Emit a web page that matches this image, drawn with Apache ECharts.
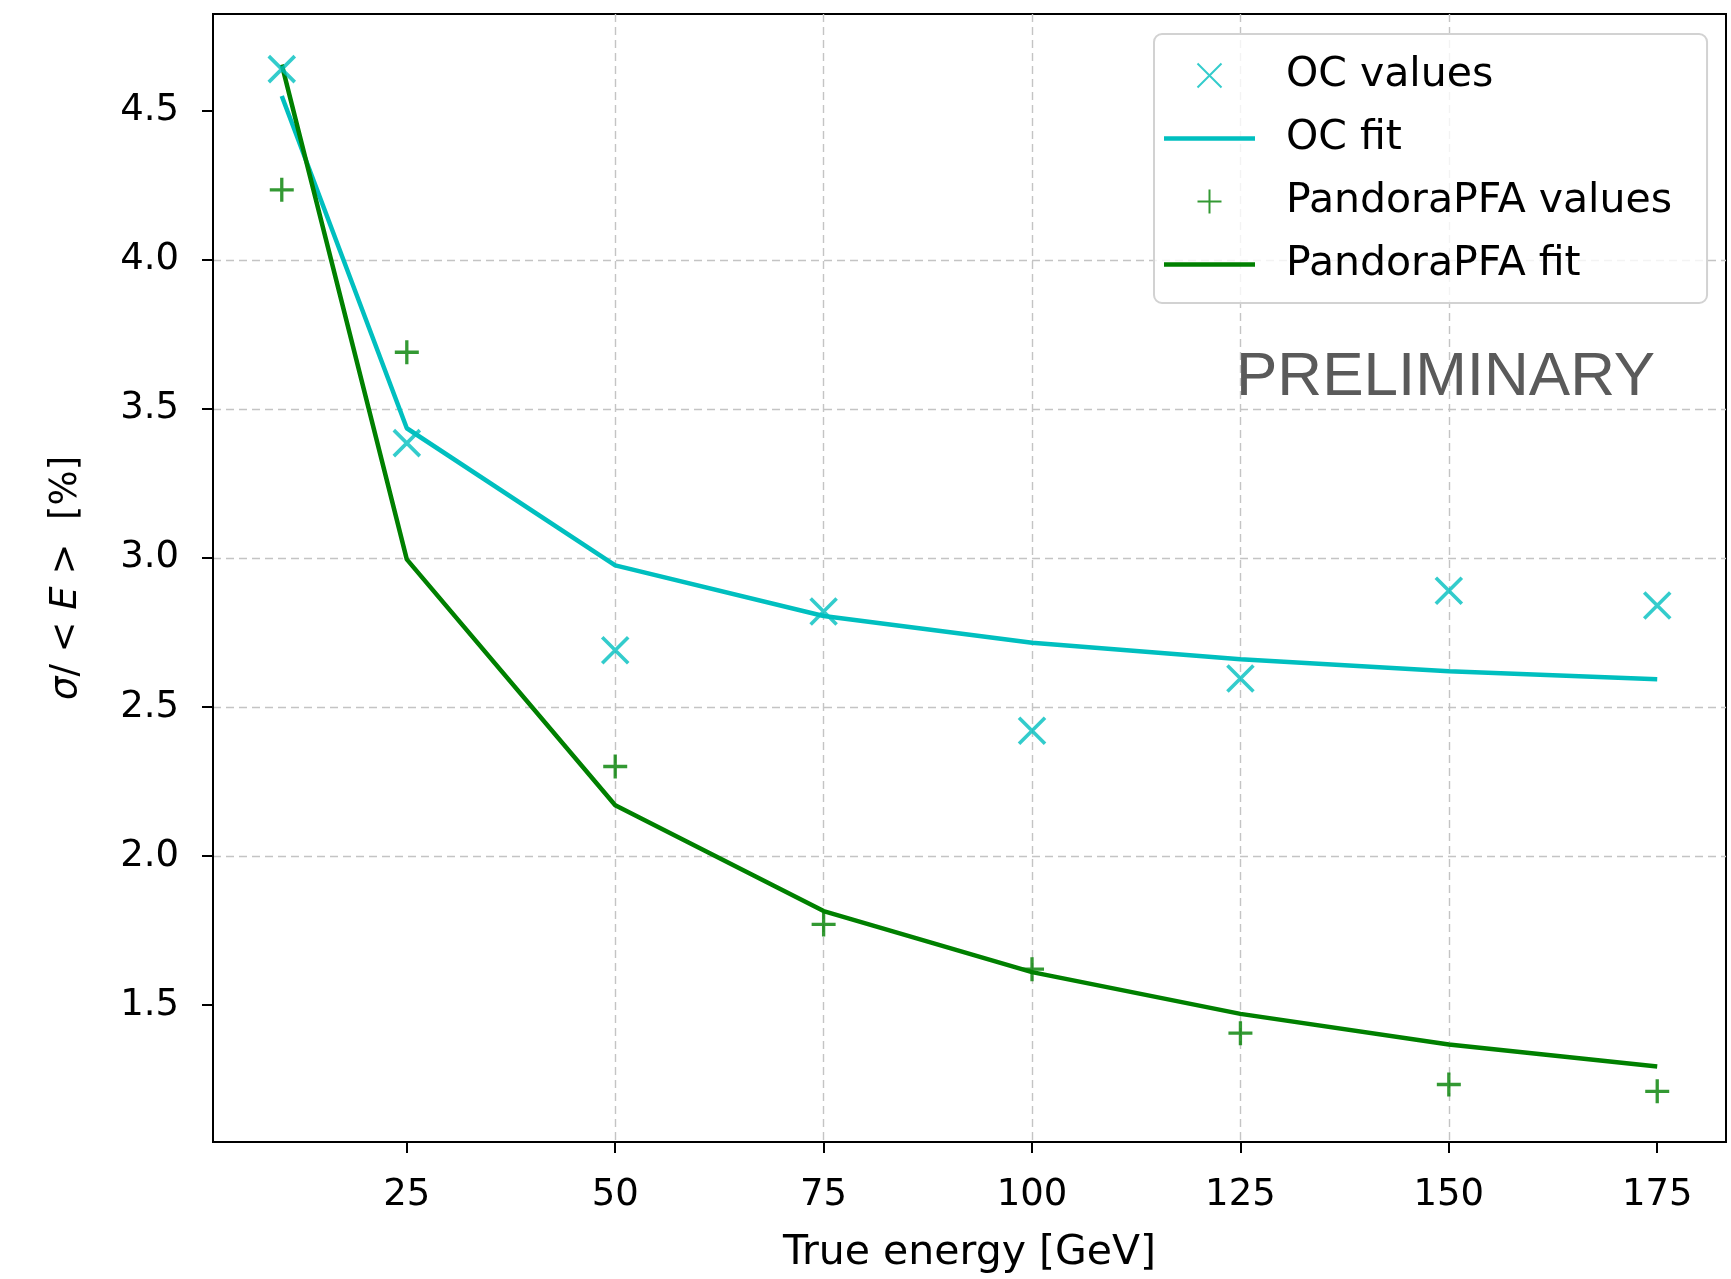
<!DOCTYPE html>
<html>
<head>
<meta charset="utf-8">
<script src="https://cdn.jsdelivr.net/npm/echarts@6/dist/echarts.min.js"></script>
<style>
  html, body { margin: 0; padding: 0; background: #fff; }
  #chart { width: 1731px; height: 1279px; }
</style>
</head>
<body>
<div id="chart"></div>
<script>
// true energy [GeV]
var energies = [10, 25, 50, 75, 100, 125, 150, 175];
// sigma / <E> [%]
var ocValues = [4.64, 3.385, 2.69, 2.82, 2.42, 2.595, 2.89, 2.84];
var ocFit = [4.55, 3.435, 2.975, 2.805, 2.715, 2.66, 2.62, 2.593];
var pandoraValues = [4.235, 3.69, 2.30, 1.77, 1.62, 1.405, 1.233, 1.21];
var pandoraFit = [4.655, 2.995, 2.17, 1.815, 1.61, 1.47, 1.367, 1.293];
// ticks
var xTicks = [25, 50, 75, 100, 125, 150, 175];
var yTicks = [1.5, 2.0, 2.5, 3.0, 3.5, 4.0, 4.5];

var cyan = "#00bfbf";
var green = "#008000";
var font = "DejaVu Sans";
// flat bar used as the legend icon of the fit lines
var lineIcon = "path://M0,0H91V4.5H0Z";

function pairs(xs, ys) {
  var out = [];
  for (var i = 0; i < xs.length; i++) {
    out.push([xs[i], ys[i]]);
  }
  return out;
}

var myChart = echarts.init(document.getElementById("chart"), null, { renderer: "canvas" });

var option = {
  animation: false,
  backgroundColor: "#fff",
  grid: {
    left: 213,
    right: 5,
    top: 14,
    bottom: 137,
    show: true,
    borderColor: "#000",
    borderWidth: 2,
    containLabel: false,
  },
  legend: {
    orient: "vertical",
    left: 1154,
    top: 34,
    padding: [21, 35, 18, 10],
    backgroundColor: "rgba(255,255,255,0.8)",
    borderColor: "#d2d2d2",
    borderWidth: 2,
    borderRadius: 8,
    itemWidth: 91,
    itemHeight: 24,
    itemGap: 22,
    textStyle: {
      fontFamily: font,
      fontSize: 41,
      color: "#000",
      lineHeight: 41,
      padding: [0, 0, 0, 26],
    },
    data: [
      { name: "OC values" },
      { name: "OC fit", icon: lineIcon, itemStyle: { color: cyan } },
      { name: "PandoraPFA values" },
      { name: "PandoraPFA fit", icon: lineIcon, itemStyle: { color: green } },
    ],
  },
  xAxis: {
    type: "value",
    min: 1.75,
    max: 183.25,
    minInterval: 25,
    maxInterval: 25,
    name: "True energy [GeV]",
    nameLocation: "middle",
    nameGap: 91,
    nameTextStyle: { fontFamily: font, fontSize: 41, color: "#000" },
    axisLine: { show: true, onZero: false, lineStyle: { color: "#000", width: 2 } },
    axisTick: {
      show: true,
      length: 11,
      customValues: xTicks,
      lineStyle: { color: "#000", width: 2 },
    },
    axisLabel: {
      customValues: xTicks,
      margin: 35,
      fontFamily: font,
      fontSize: 37,
      color: "#000",
    },
    splitLine: {
      show: true,
      showMinLine: false,
      showMaxLine: false,
      lineStyle: { color: "#c4c4c4", width: 1.4, type: [8, 5] },
    },
  },
  yAxis: {
    type: "value",
    min: 1.04,
    max: 4.825,
    minInterval: 0.5,
    maxInterval: 0.5,
    name: "{i|σ}/ < {i|E} >  [%]",
    nameLocation: "middle",
    nameRotate: 90,
    nameGap: 128,
    nameTextStyle: {
      fontFamily: font,
      fontSize: 37,
      color: "#000",
      rich: {
        i: { fontFamily: font, fontSize: 37, fontStyle: "italic", color: "#000" },
      },
    },
    axisLine: { show: true, onZero: false, lineStyle: { color: "#000", width: 2 } },
    axisTick: {
      show: true,
      length: 11,
      customValues: yTicks,
      lineStyle: { color: "#000", width: 2 },
    },
    axisLabel: {
      customValues: yTicks,
      margin: 34,
      fontFamily: font,
      fontSize: 37,
      color: "#000",
      formatter: function (v) {
        return v.toFixed(1);
      },
    },
    splitLine: {
      show: true,
      showMinLine: false,
      showMaxLine: false,
      lineStyle: { color: "#c4c4c4", width: 1.4, type: [8, 5] },
    },
  },
  graphic: [
    {
      type: "text",
      left: 1236,
      top: 347,
      z: 10,
      style: {
        text: "PRELIMINARY",
        fontFamily: "Liberation Sans",
        fontSize: 62,
        fill: "#5a5a5a",
      },
    },
  ],
  series: [
    {
      name: "OC values",
      type: "scatter",
      symbol: "path://M0,0L10,10M10,0L0,10",
      symbolSize: 26,
      itemStyle: { color: "none", borderColor: cyan, borderWidth: 3.6 },
      data: pairs(energies, ocValues),
      z: 3,
    },
    {
      name: "OC fit",
      type: "line",
      symbol: "none",
      showSymbol: false,
      color: cyan,
      lineStyle: { color: cyan, width: 4.5 },
      data: pairs(energies, ocFit),
      z: 2,
    },
    {
      name: "PandoraPFA values",
      type: "scatter",
      symbol: "path://M5,0L5,10M0,5L10,5",
      symbolSize: 24,
      itemStyle: { color: "none", borderColor: green, borderWidth: 3.3 },
      data: pairs(energies, pandoraValues),
      z: 3,
    },
    {
      name: "PandoraPFA fit",
      type: "line",
      symbol: "none",
      showSymbol: false,
      color: green,
      lineStyle: { color: green, width: 4.5 },
      data: pairs(energies, pandoraFit),
      z: 2,
    },
  ],
};

myChart.setOption(option);
</script>
</body>
</html>
